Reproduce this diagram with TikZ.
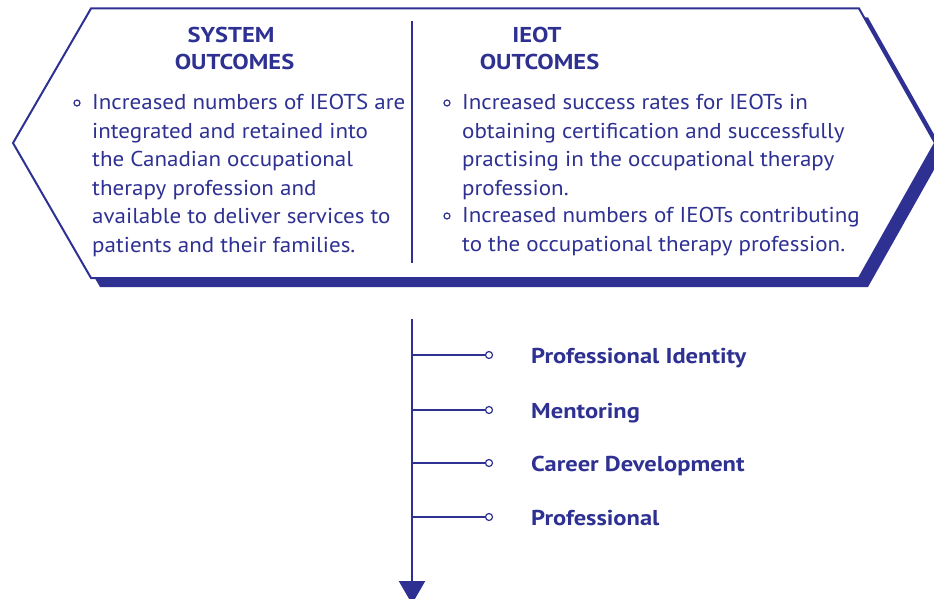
\documentclass[tikz,border=0pt]{standalone}
\usepackage{fontspec}
\setmainfont{PT Sans}[FakeStretch=1.07, BoldFeatures={FakeStretch=1.14}]
\usetikzlibrary{arrows.meta}

\definecolor{ieotblue}{RGB}{46,49,146}

\tikzset{
  body/.style={font=\fontsize{21.5}{28.6}\selectfont, text=ieotblue,
    inner sep=0pt, anchor=north west, align=left},
  head/.style={font=\fontsize{21.5}{27}\selectfont\bfseries, text=ieotblue,
    inner sep=0pt, anchor=base},
  item/.style={font=\fontsize{21.5}{27}\selectfont\bfseries, text=ieotblue,
    inner sep=0pt, anchor=base west},
  dot/.style={circle, draw=ieotblue, fill=white, line width=1.2pt,
    inner sep=0pt, minimum size=6pt},
  edge/.style={draw=ieotblue, line width=1.6pt},
}

\begin{document}
\begin{tikzpicture}[x=1pt,y=-1pt]
\useasboundingbox (0,0) rectangle (934,599);
% outcome hexagon: shadow first, then the white face
\fill[ieotblue] (22,152) -- (100,17.5) -- (868,17.5) -- (944,152)
  -- (868,287) -- (100,287) -- cycle;
\draw[ieotblue, line width=2pt, fill=white] (13,143) -- (91,8.5)
  -- (859,8.5) -- (935,143) -- (859,278) -- (91,278) -- cycle;
\draw[ieotblue, line width=2.5pt] (412,21) -- (412,263);

% column headings
\node[head] (sysa) at (231,42.3) {SYSTEM};
\node[head] (sysb) at (234.5,69.3) {OUTCOMES};
\node[head] (ieota) at (537,42.3) {IEOT};
\node[head] (ieotb) at (539.5,69.3) {OUTCOMES};

% left column
\node[dot] (bl1) at (77,103) {};
\node[body] (sys1) at (92,89.3) {\strut Increased numbers of IEOTS are\\
  integrated and retained into\\
  the Canadian occupational\\
  therapy profession and\\
  available to deliver services to\\
  patients and their families.};

% right column
\node[dot] (br1) at (447,103) {};
\node[body] (ieot1) at (462,89.3) {\strut Increased success rates for IEOTs in\\
  obtaining certification and successfully\\
  practising in the occupational therapy\\
  profession.};
\node[dot] (br2) at (447,216) {};
\node[body] (ieot2) at (462,202.3) {\strut Increased numbers of IEOTs contributing\\
  to the occupational therapy profession.};

% spine with its branches
\coordinate (top) at (412,319);
\coordinate (tip) at (412,604);
\draw[ieotblue, line width=2.5pt, -{Triangle[width=26pt,length=23pt]}] (top) -- (tip);

\coordinate (s1) at (412,355);
\coordinate (s2) at (412,410);
\coordinate (s3) at (412,463);
\coordinate (s4) at (412,517);
\node[dot, minimum size=7pt] (e1) at (489,355) {};
\node[dot, minimum size=7pt] (e2) at (489,410) {};
\node[dot, minimum size=7pt] (e3) at (489,463) {};
\node[dot, minimum size=7pt] (e4) at (489,517) {};
\draw[edge] (s1) -- (e1);
\draw[edge] (s2) -- (e2);
\draw[edge] (s3) -- (e3);
\draw[edge] (s4) -- (e4);

\node[item] (pid) at (531,363) {Professional Identity};
\node[item] (ment) at (531,418) {Mentoring};
\node[item] (career) at (531,471) {Career Development};
\node[item] (prof) at (531,525) {Professional};
\end{tikzpicture}
\end{document}
